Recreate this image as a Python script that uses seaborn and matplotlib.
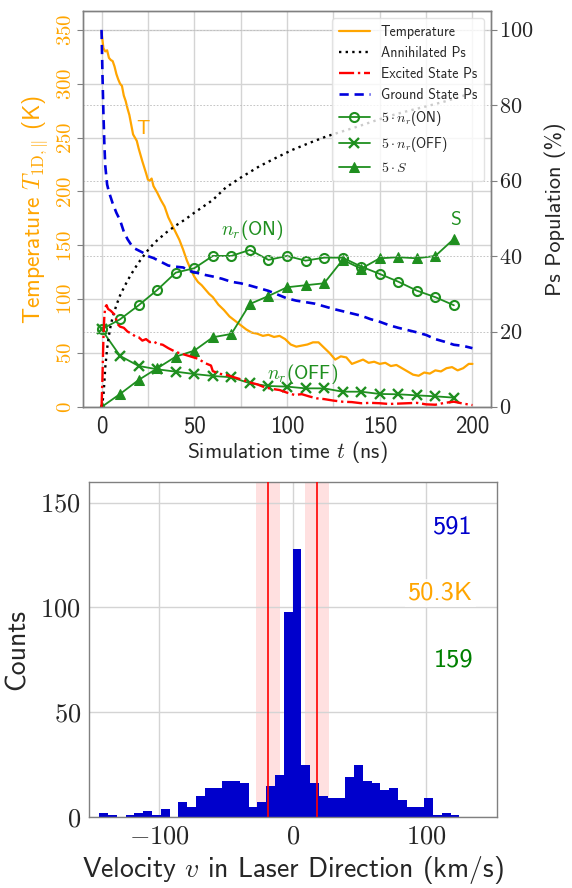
import numpy as np
import pandas as pd
import matplotlib
matplotlib.use("Agg")
import matplotlib.pyplot as plt
import seaborn as sns
from matplotlib.ticker import FuncFormatter, MultipleLocator, FixedLocator

# ---------------- data ----------------
t_temp = [0, 1, 2, 3, 4, 5, 6, 7, 8, 9, 10, 11, 12, 13, 14, 15, 16, 17, 18, 19, 20, 22, 24, 25, 26, 27, 28,
          30, 32, 34, 36, 38, 40, 42, 44, 46, 48, 50, 52, 54, 56, 58, 60, 63, 66, 69, 72, 75, 78, 81, 84,
          87, 90, 93, 96, 99, 102, 105, 108, 111, 114, 117, 120, 123, 126, 129, 132, 135, 138, 141, 144,
          147, 150, 153, 156, 159, 162, 165, 168, 171, 174, 177, 180, 183, 186, 189, 192, 195, 198, 200]
temperature = [348, 333, 330, 331, 324, 322, 321, 316, 309, 304, 300, 298, 289, 284, 277, 271, 262, 253, 250,
               247, 240, 228, 217, 211, 210, 212, 205, 199, 192, 186, 176, 169, 162, 155, 146, 136, 128, 121,
               116, 113, 109, 105, 102, 95, 90, 84, 80, 76, 72, 69, 68, 66, 67, 65, 66, 63, 58, 56, 57, 58,
               60, 60, 55, 50, 44, 47, 46, 40, 42, 44, 41, 42, 40, 41, 38, 39, 36, 33, 30, 29, 32, 31, 34,
               33, 36, 37, 34, 36, 40, 40]

t_ground = [0, 0.5, 1, 1.5, 2, 3, 4, 5, 6, 8, 10, 12, 14, 16, 18, 20, 22, 25, 28, 32, 36, 40, 44, 48, 52, 56,
            60, 65, 70, 75, 80, 85, 90, 95, 100, 105, 110, 115, 120, 125, 130, 135, 140, 145, 150, 155, 160,
            165, 170, 175, 180, 185, 190, 195, 200]
ground = [100, 88, 78, 70, 64, 59, 57, 55.5, 54, 51.5, 49.5, 46.5, 44.5, 43, 42, 41.5, 41, 40, 39.5, 38.5,
          37.5, 37.2, 37, 36, 35.5, 35, 34.6, 34, 33.2, 32.8, 32.2, 31.5, 30.8, 29.8, 28.8, 28.2, 27.8, 27.4,
          26.7, 26, 25.4, 24.8, 24.2, 23.3, 22.6, 21.7, 21, 20.4, 19.8, 19.1, 18, 17.3, 16.5, 16.2, 15.6]

t_excited = [0, 0.5, 1, 1.5, 2, 2.7, 3.5, 5, 7, 8, 9, 10, 12, 14, 16, 18, 20, 22, 24, 26, 28, 30, 33, 36, 40,
             44, 48, 52, 56, 59, 60, 64, 68, 72, 76, 80, 84, 88, 92, 96, 100, 104, 108, 112, 116, 120, 125,
             130, 135, 140, 145, 150, 155, 160, 165, 170, 175, 180, 185, 190, 195, 200]
excited = [0, 8, 18, 24, 26.5, 27, 26, 25.5, 24.5, 23, 21.8, 21.3, 21, 20, 19.5, 18.8, 18.5, 17.6, 18, 17.2,
           17.4, 16.8, 16.5, 15.6, 14.6, 14, 13.4, 12.8, 11.6, 11, 9.5, 8.8, 8.4, 7.8, 7.2, 6.5, 6, 5.2, 4.8,
           4.5, 3.8, 3.2, 3.4, 2.8, 2.3, 2.1, 1.7, 1.4, 1.3, 1.0, 1.1, 1.0, 0.8, 0.9, 1.0, 1.1, 0.7, 0.6, 1.1,
           1.4, 0.9, 0.5]

t_annih = [0, 0.5, 1, 1.5, 2, 3, 4, 5, 6, 8, 10, 12, 14, 16, 18, 20, 23, 26, 30, 35, 40, 45, 50, 55, 60, 67,
           75, 85, 95, 103, 112, 121, 130, 139, 148, 157, 166, 175, 185, 193, 200]
annihilated = [0, 1.2, 3, 6.5, 10.5, 15.5, 19, 21.8, 23.8, 27, 29.6, 31.6, 33.5, 35.2, 36.8, 38.3, 40.3, 42.2,
               44.2, 46.3, 48.1, 49.7, 51.5, 53.2, 54.9, 58.2, 60.8, 63.8, 66.3, 68.2, 70, 71.7, 73.1, 74.5,
               76, 77.4, 78.6, 79.7, 81, 82.2, 83.3]

t_green = [0, 10, 20, 30, 40, 50, 60, 70, 80, 90, 100, 110, 120, 130, 140, 150, 160, 170, 180, 190]
nr_on = [72, 81.4, 94.4, 108.6, 124.7, 128.8, 140.2, 140.2, 145.8, 136.5, 140.2, 135.8, 138.6, 138.6, 130.3,
         123.5, 116.3, 108, 101.9, 94.4]
nr_off = [72, 47.4, 38.1, 35, 32.8, 30.6, 28.8, 27.6, 22, 19.5, 18.9, 17.3, 17.3, 14.2, 14.2, 12.1, 11.8, 10.8,
          9.9, 8.7]
s_vals = [0, 12.1, 25.1, 35.9, 46.7, 52.3, 64.7, 67.8, 95.6, 103, 111.1, 113, 114.8, 136.5, 128.4, 138, 139,
          138, 140.2, 156]

hist_edges = list(np.linspace(-145, 125, 42))
hist_counts = [2, 1, 0, 1, 2, 3, 1, 4, 0, 7, 5, 10, 14, 14, 17, 17, 16, 5, 7, 15, 20,
               98, 128, 25, 16, 10, 9, 9, 19, 25, 17, 16, 13, 14, 8, 5, 5, 9, 1, 2, 1]
laser_lines = [-18.3, 18.3]
laser_halfwidth = 9
stats_texts = ["591", "50.3K", "159"]

# ---------------- style ----------------
sns.set_style("whitegrid")
plt.rcParams["font.family"] = ["cmss10", "DejaVu Sans"]
plt.rcParams["mathtext.fontset"] = "cm"
plt.rcParams["axes.unicode_minus"] = True

ORANGE = "#FFA500"
GREEN = "#1f8f1f"
BLUE = "#0000CC"
GRID = "#d4d4d4"
SPINE = "#808080"

fmt = FuncFormatter(lambda v, p: r"$\mathrm{%d}$" % round(v) if v >= 0 else r"$\mathrm{-%d}$" % round(-v))
fmt_plain = FuncFormatter(lambda v, p: "%d" % round(v))

fig = plt.figure(figsize=(5.72, 8.88), dpi=100)

# ---------------- top panel ----------------
ax = fig.add_axes([83 / 572, 1 - 407 / 888, 408 / 572, 396 / 888])
axr = ax.twinx()

sns.lineplot(x=t_temp, y=temperature, ax=ax, color=ORANGE, lw=1.6, label="Temperature", legend=False)
sns.lineplot(x=t_annih, y=annihilated, ax=axr, color="black", lw=1.7, ls=(0, (1, 1.8)), label="Annihilated Ps",
             legend=False)
sns.lineplot(x=t_excited, y=excited, ax=axr, color="red", lw=1.7, ls="-.", label="Excited State Ps",
             legend=False)
sns.lineplot(x=t_ground, y=ground, ax=axr, color="#0000DD", lw=1.9, ls=(0, (3.5, 2.2)), label="Ground State Ps",
             legend=False)
sns.lineplot(x=t_green, y=nr_on, ax=ax, color=GREEN, lw=1.3, marker="o", markersize=6.5, mfc="none", mec=GREEN,
             mew=1.5, label=r"$5\cdot n_r$(ON)", legend=False)
sns.lineplot(x=t_green, y=nr_off, ax=ax, color=GREEN, lw=1.3, marker="x", markersize=6.5, mec=GREEN, mew=1.7,
             label=r"$5\cdot n_r$(OFF)", legend=False)
sns.lineplot(x=t_green, y=s_vals, ax=ax, color=GREEN, lw=1.3, marker="^", markersize=7, mec=GREEN, mfc=GREEN,
             label=r"$5\cdot S$", legend=False)

ax.set_xlim(-10, 210)
ax.set_ylim(0, 367.5)
axr.set_ylim(0, 105)
ax.xaxis.set_major_locator(FixedLocator([0, 50, 100, 150, 200]))
ax.xaxis.set_minor_locator(MultipleLocator(25))
ax.yaxis.set_major_locator(FixedLocator([0, 50, 100, 150, 200, 250, 300, 350]))
axr.yaxis.set_major_locator(FixedLocator([0, 20, 40, 60, 80, 100]))
ax.xaxis.set_major_formatter(fmt_plain)
ax.yaxis.set_major_formatter(fmt)
axr.yaxis.set_major_formatter(fmt)

ax.grid(True, which="major", color=GRID, lw=1.0)
ax.grid(True, which="minor", axis="x", color=GRID, lw=1.0)
axr.grid(True, which="major", axis="y", color="#bbbbbb", lw=0.6, ls=(0, (2, 2)))
axr.grid(False, axis="x")

ax.tick_params(axis="x", labelsize=16.5, length=4, color=SPINE, pad=2)
ax.tick_params(axis="x", which="minor", length=0)
ax.tick_params(axis="y", labelsize=15, length=4, color=SPINE, labelcolor=ORANGE, labelrotation=90, pad=2)
for lab in ax.get_yticklabels():
    lab.set_va("center")
axr.tick_params(axis="y", labelsize=16, length=4, color=SPINE, pad=2)

ax.set_xlabel(r"Simulation time $t$ (ns)", fontsize=15.5, labelpad=1)
ax.set_ylabel(r"Temperature $T_{\mathrm{1D},\|}$ (K)", fontsize=17, color=ORANGE, labelpad=4)
axr.set_ylabel("Ps Population (%)", fontsize=16, labelpad=8)

for a in (ax, axr):
    for sp in a.spines.values():
        sp.set_color(SPINE)
        sp.set_linewidth(1.0)

ax.text(22.4, 258, "T", color=ORANGE, fontsize=14, ha="center", va="center")
ax.text(81.6, 164, r"$n_r$(ON)", color=GREEN, fontsize=14, ha="center", va="center")
ax.text(108.6, 31, r"$n_r$(OFF)", color=GREEN, fontsize=14, ha="center", va="center")
ax.text(190.8, 174, "S", color=GREEN, fontsize=14, ha="center", va="center")

h1, l1 = ax.get_legend_handles_labels()
h2, l2 = axr.get_legend_handles_labels()
hs = [h1[0]] + h2 + h1[1:]
ls_ = [l1[0]] + l2 + l1[1:]
leg = axr.legend(hs, ls_, loc="upper right", fontsize=10, frameon=True, framealpha=0.8,
                 edgecolor="#dddddd", borderpad=0.5, labelspacing=0.5, handlelength=2.2,
                 borderaxespad=0.5)

# ---------------- bottom panel ----------------
bx = fig.add_axes([89.3 / 572, 1 - 817 / 888, 407.4 / 572, 335.3 / 888])
centers = [(hist_edges[i] + hist_edges[i + 1]) / 2 for i in range(len(hist_counts))]
hdf = pd.DataFrame({"v": centers, "n": hist_counts})
sns.histplot(data=hdf, x="v", weights="n", bins=hist_edges, ax=bx, color=BLUE, alpha=1.0, linewidth=0,
             edgecolor=BLUE)
for c in laser_lines:
    bx.axvspan(c - laser_halfwidth, c + laser_halfwidth, color="#ffcccc", alpha=0.6, lw=0, zorder=0.5)
    bx.axvline(c, color="red", lw=1.2, zorder=3)

bx.set_xlim(-152.5, 153)
bx.set_ylim(0, 160)
bx.xaxis.set_major_locator(FixedLocator([-100, 0, 100]))
bx.yaxis.set_major_locator(FixedLocator([0, 50, 100, 150]))
bx.xaxis.set_major_formatter(fmt)
bx.yaxis.set_major_formatter(fmt)
bx.grid(True, color=GRID, lw=1.0)
bx.set_axisbelow(True)
bx.tick_params(labelsize=19, length=4, color=SPINE, pad=2)
bx.set_xlabel(r"Velocity $v$ in Laser Direction (km/s)", fontsize=20, labelpad=4)
bx.set_ylabel("Counts", fontsize=20, labelpad=8)
for sp in bx.spines.values():
    sp.set_color(SPINE)
    sp.set_linewidth(1.0)

box = dict(facecolor="white", edgecolor="none", alpha=0.85, pad=2)
bx.text(0.942, 0.866, stats_texts[0], color=BLUE, fontsize=19, ha="right", va="center",
        transform=bx.transAxes, bbox=box)
bx.text(0.942, 0.668, stats_texts[1], color=ORANGE, fontsize=19, ha="right", va="center",
        transform=bx.transAxes, bbox=box)
bx.text(0.942, 0.468, stats_texts[2], color="green", fontsize=19, ha="right", va="center",
        transform=bx.transAxes, bbox=box)

fig.savefig("out.png", dpi=100)
